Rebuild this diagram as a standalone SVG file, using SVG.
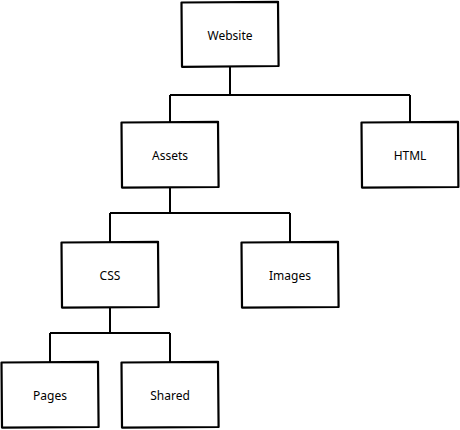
<svg xmlns="http://www.w3.org/2000/svg" width="460" height="430" viewBox="0 0 460 430">
<style>
.box{fill:#fff;stroke:#000;stroke-width:2.2;stroke-linejoin:round}
.lbl{font-family:"Noto Sans","DejaVu Sans",sans-serif;font-size:12px;fill:#000;text-anchor:middle;dominant-baseline:central}
.con{fill:none;stroke:#000;stroke-width:2}
</style>
<rect width="460" height="430" fill="#fff"/>
<g id="connectors">
<path class="con" d="M230,66 V95 M170,95 H410 M170,95 V122 M410,95 V122"/>
<path class="con" d="M170,187 V213 M110,213 H290 M110,213 V242 M290,213 V242"/>
<path class="con" d="M110,307 V333 M50,333 H170 M50,333 V362 M170,333 V362"/>
</g>
<g id="website"><path class="box" d="M181.5,2.5 L278,1.8 L278.6,66 L182,66.8 Z"/><text class="lbl" x="230" y="35">Website</text></g>
<g id="assets"><path class="box" d="M121.5,122.5 L218,121.8 L218.6,187 L122,187.6 Z"/><text class="lbl" x="170" y="155">Assets</text></g>
<g id="html"><path class="box" d="M361.5,122.5 L458,121.8 L458.4,187 L362,187.6 Z"/><text class="lbl" x="410" y="155">HTML</text></g>
<g id="css"><path class="box" d="M61.5,242.5 L158,241.8 L158.6,307 L62,307.6 Z"/><text class="lbl" x="110" y="275">CSS</text></g>
<g id="images"><path class="box" d="M241.5,242.5 L338,241.8 L338.6,307 L242,307.6 Z"/><text class="lbl" x="290" y="275">Images</text></g>
<g id="pages"><path class="box" d="M1.5,362.5 L98,361.8 L98.6,427 L2,427.6 Z"/><text class="lbl" x="50" y="395">Pages</text></g>
<g id="shared"><path class="box" d="M121.5,362.5 L218,361.8 L218.6,427 L122,427.6 Z"/><text class="lbl" x="170" y="395">Shared</text></g>
</svg>
